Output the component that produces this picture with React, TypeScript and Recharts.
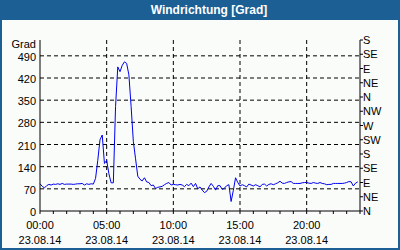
import { CartesianGrid, Line, LineChart, XAxis, YAxis } from 'recharts'

// 10-minute readings, degrees
const night = [
  86, 78, 73, 80, 84, 82, 85, 84, 86, 84, 87, 84, 85, 85, 85, 84, 85, 86, 86, 87, 82, 86, 84, 86,
  85, 103, 160, 225, 240, 150, 160, 118, 89, 89, 330, 455,
]
const morning = [
  440, 460, 471, 466, 430, 330, 220, 165, 110, 100, 95, 105, 92, 90, 80, 82, 71, 75, 76, 78, 83, 87, 90, 82,
  84, 83, 82, 84, 82, 77, 84, 80, 88, 77, 87, 70,
]
const afternoon = [
  76, 66, 58, 62, 76, 87, 78, 66, 80, 80, 68, 72, 80, 83, 30, 65, 105, 90, 79, 83, 80, 76, 85, 82,
  79, 83, 80, 76, 84, 85, 79, 84, 86, 83, 86, 89,
]
const evening = [
  94, 88, 87, 90, 92, 93, 87, 87, 87, 87, 89, 90, 90, 88, 87, 90, 88, 87, 90, 87, 86, 83, 84, 84,
  87, 87, 87, 87, 87, 88, 90, 93, 92, 79, 88, 92,
]
const stepMinutes = 10

const gradTicks = [0, 70, 140, 210, 280, 350, 420, 490]
const compassLabels = ['N', 'NE', 'E', 'SE', 'S', 'SW', 'W', 'NW', 'N', 'NE', 'E', 'SE', 'S']
const compassTicks = [0, 45, 90, 135, 180, 225, 270, 315, 360, 405, 450, 495, 540]
const hourTicks = [0, 1, 2, 3, 4, 5, 6, 7, 8, 9, 10, 11, 12, 13, 14, 15, 16, 17, 18, 19, 20, 21, 22, 23, 24]
const labelledHours = [0, 5, 10, 15, 20]
const dateLabel = '23.08.14'

const chartData = [...night, ...morning, ...afternoon, ...evening].map((value, index) => ({
  hour: (index * stepMinutes) / 60,
  value,
}))

const font = '"Liberation Sans", Arial, sans-serif'

function HourTick({ x, y, payload }: any) {
  const h = payload.value
  if (!labelledHours.includes(h)) return <g />
  const text = `${String(h).padStart(2, '0')}:00`
  return (
    <text x={x} y={y} textAnchor="middle" fontSize={11} fill="#000" fontFamily={font}>
      <tspan x={x} dy={13}>{text}</tspan>
      <tspan x={x} dy={15}>{dateLabel}</tspan>
    </text>
  )
}

function GradTick({ x, y, payload }: any) {
  return (
    <text x={x} y={y + 5} textAnchor="end" fontSize={11} fill="#000" fontFamily={font}>
      {payload.value}
    </text>
  )
}

function CompassTick({ x, y, payload }: any) {
  const idx = compassTicks.indexOf(payload.value)
  return (
    <text x={x} y={y + 4} textAnchor="start" fontSize={11} fill="#000" fontFamily={font}>
      {compassLabels[idx]}
    </text>
  )
}

function GradLabel({ viewBox }: any) {
  return (
    <text
      x={viewBox.x + viewBox.width - 4}
      y={viewBox.y + 8}
      textAnchor="end"
      fontSize={11}
      fill="#000"
      fontFamily={font}
    >
      Grad
    </text>
  )
}

export default function App() {
  return (
    <div
      style={{
        position: 'absolute',
        left: 0,
        top: 0,
        width: 400,
        height: 250,
        background: '#1c5f94',
        fontFamily: font,
      }}
    >
      <div
        style={{
          position: 'absolute',
          left: 0,
          top: 0,
          width: 400,
          height: 20,
          lineHeight: '20px',
          paddingLeft: 18,
          boxSizing: 'border-box',
          textAlign: 'center',
          color: '#fff',
          fontWeight: 'bold',
          fontSize: 12,
        }}
      >
        Windrichtung [Grad]
      </div>
      <div
        style={{
          position: 'absolute',
          left: 2,
          top: 20,
          width: 396,
          height: 228,
          background: '#fafcfa',
        }}
      />
      <div style={{ position: 'absolute', left: 0, top: 0 }}>
        <LineChart
          width={400}
          height={250}
          data={chartData}
          margin={{ top: 40, right: 0, left: 0, bottom: 2 }}
        >
          <CartesianGrid
            yAxisId="left"
            stroke="#000"
            strokeDasharray="4 3"
            verticalValues={[5, 10, 15, 20]}
            horizontalValues={gradTicks.slice(1)}
          />
          <XAxis
            dataKey="hour"
            type="number"
            domain={[0, 24]}
            ticks={hourTicks}
            interval={0}
            height={37}
            tickSize={3}
            tickMargin={2}
            axisLine={{ stroke: '#000' }}
            tickLine={{ stroke: '#000' }}
            tick={<HourTick />}
          />
          <XAxis
            xAxisId="top"
            dataKey="hour"
            type="number"
            domain={[0, 24]}
            orientation="top"
            height={0}
            tick={false}
            tickLine={false}
            axisLine={{ stroke: '#000' }}
          />
          <YAxis
            yAxisId="left"
            domain={[0, 540]}
            ticks={gradTicks}
            interval={0}
            width={40}
            tickLine={false}
            tickSize={0}
            tickMargin={4}
            axisLine={{ stroke: '#000' }}
            tick={<GradTick />}
            label={<GradLabel />}
          />
          <YAxis
            yAxisId="right"
            orientation="right"
            dataKey="value"
            type="number"
            domain={[0, 540]}
            allowDataOverflow
            ticks={compassTicks}
            interval={0}
            width={40}
            tickSize={3}
            tickMargin={0}
            axisLine={{ stroke: '#000' }}
            tickLine={{ stroke: '#000' }}
            tick={<CompassTick />}
          />
          <Line
            yAxisId="left"
            dataKey="value"
            type="linear"
            stroke="#0000f0"
            strokeWidth={1}
            dot={false}
            isAnimationActive={false}
          />
        </LineChart>
      </div>
    </div>
  )
}
